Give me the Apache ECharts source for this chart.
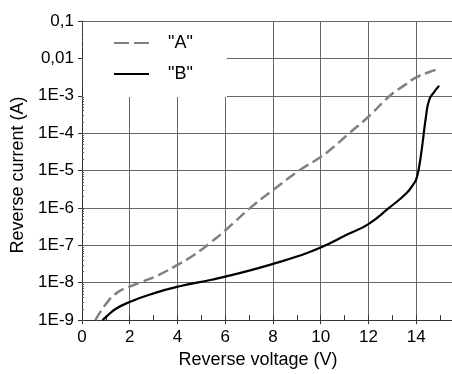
<!DOCTYPE html>
<html>
<head>
<meta charset="utf-8">
<script src="https://cdn.jsdelivr.net/npm/echarts@6/dist/echarts.min.js"></script>
<style>
  html, body { margin: 0; padding: 0; background: #fff; }
  #chart { width: 452px; height: 374px; }
</style>
</head>
<body>
<div id="chart"></div>
<script>
// curve "A" (grey dashed)
const voltageA = [0.56, 1.04, 1.5, 2.0, 2.5, 3.2, 4.0, 4.5, 5.0, 5.43, 6.0, 7.16, 8.0, 9.1, 10.0, 10.4, 11.2, 12.0, 12.9, 13.5, 14.0, 14.5, 15.0];
const currentA = [1.0e-9, 2.9e-9, 5.6e-9, 7.9e-9, 1.05e-8, 1.6e-8, 3.0e-8, 4.6e-8, 7.6e-8, 1.25e-7, 2.5e-7, 1.15e-6, 3.0e-6, 1.0e-5, 2.3e-5, 3.6e-5, 1.0e-4, 2.75e-4, 1.0e-3, 1.9e-3, 3.1e-3, 4.2e-3, 5.4e-3];

// curve "B" (black solid)
const voltageB = [0.86, 1.0, 1.39, 2.02, 3.0, 4.04, 5.43, 6.0, 7.0, 8.0, 9.0, 10.0, 11.15, 12.0, 12.86, 13.6, 13.9, 14.0, 14.12, 14.26, 14.4, 14.54, 14.75, 14.96];
const currentB = [1.0e-9, 1.2e-9, 1.95e-9, 3.1e-9, 5.2e-9, 7.9e-9, 1.2e-8, 1.45e-8, 2.1e-8, 3.2e-8, 5.0e-8, 8.7e-8, 2.0e-7, 3.7e-7, 1.0e-6, 2.5e-6, 4.5e-6, 5.8e-6, 1.23e-5, 5.0e-5, 2.5e-4, 7.6e-4, 1.26e-3, 1.86e-3];

// y tick labels, one per decade from 1E-9 up to 0.1
const yTickLabels = ['1E-9', '1E-8', '1E-7', '1E-6', '1E-5', '1E-4', '1E-3', '0,01', '0,1'];
const seriesNames = ['"A"', '"B"'];

const font = 'Liberation Sans, Arial, sans-serif';
const chart = echarts.init(document.getElementById('chart'));

const pairs = (xs, ys) => xs.map((x, i) => [x, ys[i]]);

const option = {
  animation: false,
  backgroundColor: '#fff',
  grid: { left: 82, top: 21, right: -1, bottom: 48 },
  legend: {
    left: 83,
    top: 22,
    orient: 'vertical',
    padding: [11, 34, 13, 30],
    backgroundColor: '#fff',
    itemWidth: 35,
    itemHeight: 20,
    itemGap: 11,
    itemStyle: { opacity: 0 },
    textStyle: { fontFamily: font, fontSize: 18, color: '#000', lineHeight: 20, padding: [0, 0, 0, 14] },
    data: [
      { name: seriesNames[0], lineStyle: { type: [15, 5] } },
      { name: seriesNames[1] }
    ]
  },
  xAxis: [{
    type: 'value',
    min: 0,
    max: 15.5,
    interval: 2,
    name: 'Reverse voltage (V)',
    nameLocation: 'middle',
    nameGap: 29,
    nameTextStyle: { fontFamily: font, fontSize: 18, color: '#000', padding: [0, 18, 0, 0] },
    axisLine: { show: true, lineStyle: { color: '#333', width: 1 } },
    axisTick: { show: true, inside: true, length: 5, lineStyle: { color: '#333' } },
    minorTick: { show: true, splitNumber: 2, length: 5, lineStyle: { color: '#333' } },
    axisLabel: {
      fontFamily: font, fontSize: 17, color: '#000', margin: 9,
      showMaxLabel: false,
      formatter: v => (v % 2 === 0 ? String(v) : '')
    },
    splitLine: { show: true, lineStyle: { color: '#666', width: 1 } }
  }, {
    type: 'value',
    position: 'bottom',
    min: 0,
    max: 15.5,
    interval: 2,
    axisLine: { show: false },
    axisTick: { show: true, inside: false, length: 4, lineStyle: { color: '#333' } },
    axisLabel: { show: false },
    splitLine: { show: false }
  }],
  yAxis: [{
    type: 'log',
    logBase: 10,
    min: 1e-9,
    max: 0.1,
    name: 'Reverse current (A)',
    nameLocation: 'middle',
    nameGap: 55,
    nameTextStyle: { fontFamily: font, fontSize: 18, color: '#000', padding: [0, 9, 0, 0] },
    axisLine: { show: true, lineStyle: { color: '#333', width: 1 } },
    axisTick: { show: true, inside: true, length: 2, lineStyle: { color: '#555' } },
    minorTick: { show: true, splitNumber: 9, length: 2, lineStyle: { color: '#555' } },
    axisLabel: {
      fontFamily: font, fontSize: 17, color: '#000', margin: 8,
      formatter: v => yTickLabels[Math.round(Math.log10(v)) + 9] || ''
    },
    splitLine: { show: true, lineStyle: { color: '#666', width: 1 } }
  }, {
    type: 'log',
    logBase: 10,
    position: 'left',
    min: 1e-9,
    max: 0.1,
    axisLine: { show: false },
    axisTick: { show: true, inside: false, length: 4, lineStyle: { color: '#333' } },
    axisLabel: { show: false },
    splitLine: { show: false }
  }],
  series: [{
    name: seriesNames[0],
    type: 'line',
    symbol: 'none',
    smooth: 0.5,
    lineStyle: { color: '#808080', width: 2.5, type: [11, 5] },
    itemStyle: { color: '#808080' },
    data: pairs(voltageA, currentA)
  }, {
    name: seriesNames[1],
    type: 'line',
    symbol: 'none',
    smooth: 0.5,
    lineStyle: { color: '#000', width: 2.2 },
    itemStyle: { color: '#000' },
    data: pairs(voltageB, currentB)
  }]
};

chart.setOption(option);
</script>
</body>
</html>
